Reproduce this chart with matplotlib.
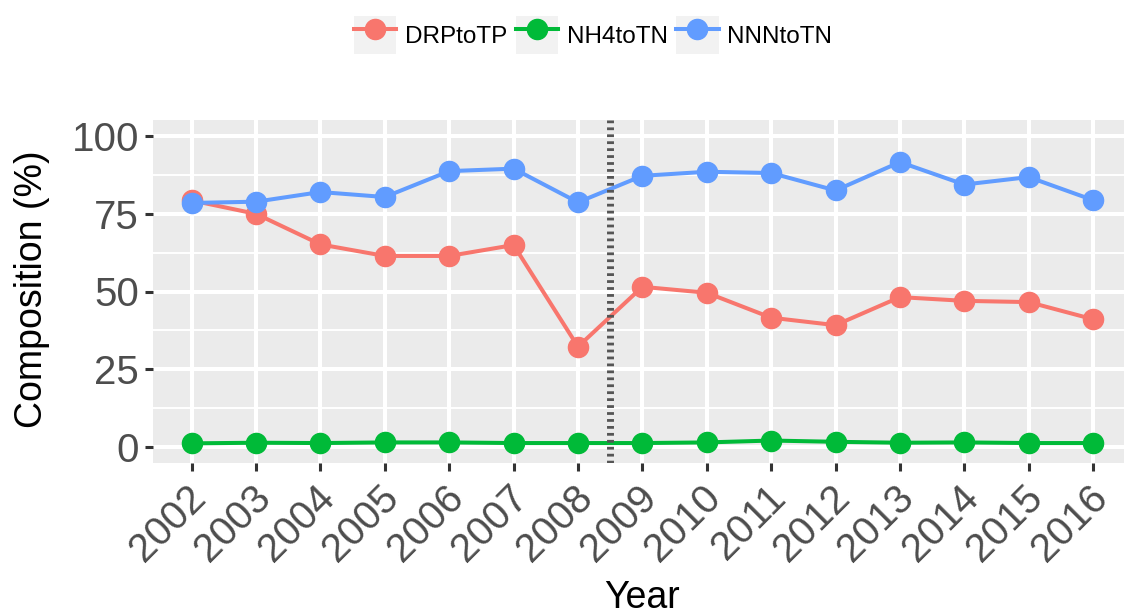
import matplotlib
matplotlib.use('Agg')
import matplotlib.pyplot as plt
from matplotlib.legend_handler import HandlerLine2D
from matplotlib.patches import Rectangle
from matplotlib.ticker import MultipleLocator
import matplotlib.transforms as mtrans

plt.rcParams['font.family'] = ['Liberation Sans', 'DejaVu Sans']

years = list(range(2002, 2017))
drp_to_tp = [79.2, 74.9, 65.1, 61.4, 61.4, 64.9, 32.3, 51.5, 49.6, 41.6, 39.2, 48.2, 47.0, 46.6, 41.1]
nh4_to_tn = [1.3, 1.5, 1.4, 1.6, 1.6, 1.4, 1.4, 1.4, 1.6, 2.2, 1.8, 1.5, 1.6, 1.4, 1.4]
nnn_to_tn = [78.4, 78.8, 81.9, 80.3, 88.6, 89.4, 78.6, 87.1, 88.4, 88.0, 82.4, 91.5, 84.3, 86.7, 79.3]
series = [('DRPtoTP', drp_to_tp, '#F8766D'),
          ('NH4toTN', nh4_to_tn, '#00BA38'),
          ('NNNtoTN', nnn_to_tn, '#619CFF')]
break_year = 2008.5


class KeyHandler(HandlerLine2D):
    # ggplot-style legend key: grey box behind line + point
    def create_artists(self, legend, orig_handle, xdescent, ydescent,
                       width, height, fontsize, trans):
        arts = super().create_artists(legend, orig_handle, xdescent, ydescent,
                                      width, height, fontsize, trans)
        bg = Rectangle((-xdescent, -ydescent), width, height,
                       facecolor='#F2F2F2', edgecolor='none', transform=trans)
        return [bg] + list(arts)


fig = plt.figure(figsize=(11.24, 6.14), dpi=100)
ax = fig.add_axes([153 / 1124, 151 / 614, 1 - 153 / 1124, 343 / 614])
ax.set_facecolor('#EBEBEB')
for s in ax.spines.values():
    s.set_visible(False)

ax.yaxis.set_major_locator(MultipleLocator(25))
ax.yaxis.set_minor_locator(MultipleLocator(12.5))
ax.grid(which='major', color='white', linewidth=2.9)
ax.grid(which='minor', axis='y', color='white', linewidth=1.4)
ax.set_axisbelow(True)

handles = []
for name, vals, col in series:
    h, = ax.plot(years, vals, color=col, linewidth=2.9, marker='o',
                 markersize=14.5, label=name, zorder=3)
    handles.append(h)

ax.axvline(break_year, color='#555555', linewidth=5,
           linestyle=(0, (0.4, 0.6)), zorder=4)

ax.set_xlim(2001.4, 2016.48)
ax.set_ylim(-5, 105)
ax.set_xticks(years)
ax.set_xticklabels([str(y) for y in years], rotation=45, ha='right',
                   va='center', rotation_mode='anchor')
ax.tick_params(axis='both', which='major', length=6, width=2.2,
               color='#333333', labelcolor='#4D4D4D', labelsize=29, pad=4)
ax.tick_params(axis='x', pad=15)
ax.tick_params(which='minor', length=0)
shift = mtrans.ScaledTranslation(6 / 72, 0, fig.dpi_scale_trans)
for lab in ax.get_xticklabels():
    lab.set_transform(lab.get_transform() + shift)

fig.text(32 / 1124, 1 - 289 / 614, 'Composition (%)', rotation=90,
         ha='center', va='center', fontsize=27, color='black')
fig.text(642 / 1124, 1 - 598 / 614, 'Year', ha='center', va='center',
         fontsize=27, color='black')

fig.legend(handles=handles, loc='center', bbox_to_anchor=(593 / 1124, 1 - 35 / 614),
           ncol=3, frameon=False, fontsize=17.5, handlelength=1.75,
           handleheight=2.05, handletextpad=0.35, columnspacing=0.35,
           handler_map={h: KeyHandler() for h in handles})

fig.savefig('out.png', dpi=100)
